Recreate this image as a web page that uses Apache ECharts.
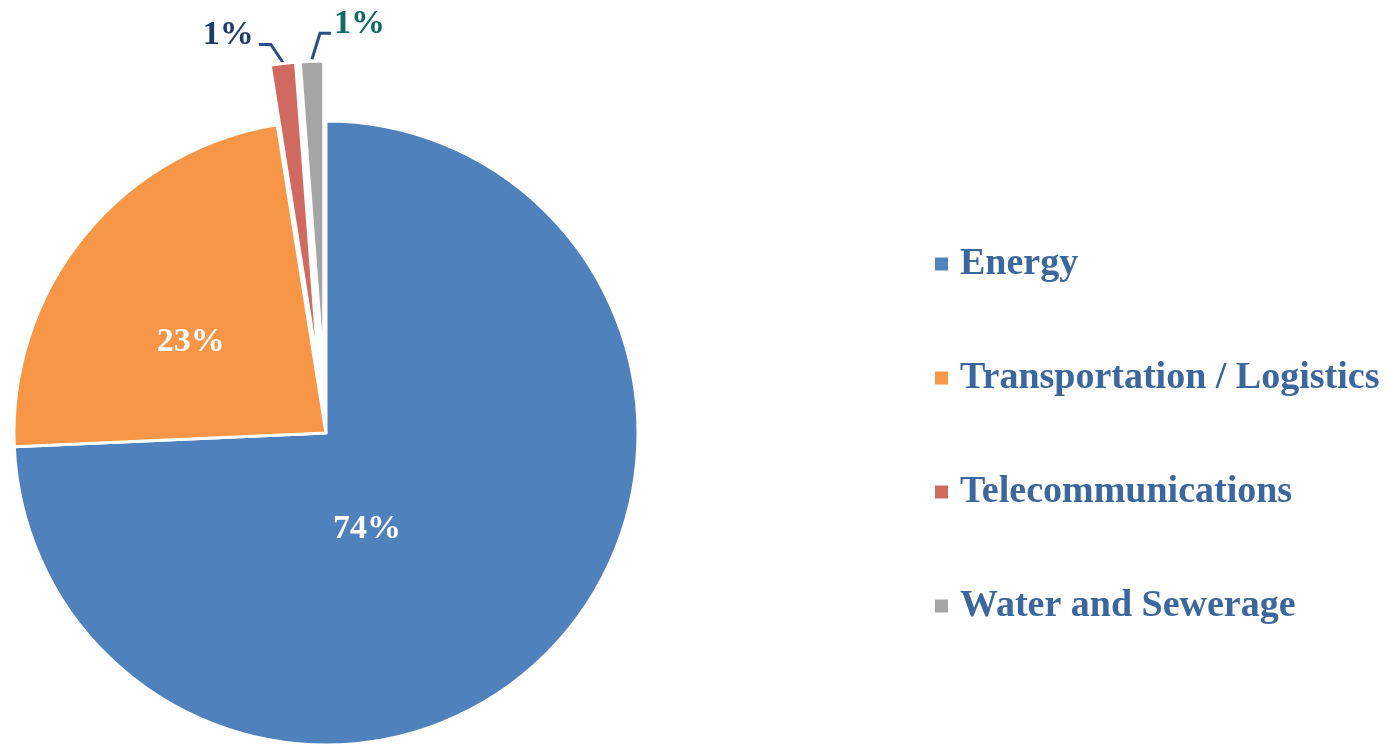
<!DOCTYPE html>
<html>
<head>
<meta charset="utf-8">
<script src="https://cdn.jsdelivr.net/npm/echarts@6/dist/echarts.min.js"></script>
<style>
  html, body { margin: 0; padding: 0; background: #fff; }
  #chart { width: 1389px; height: 744px; }
</style>
</head>
<body>
<div id="chart"></div>
<script>
const categories = ['Energy', 'Transportation / Logistics', 'Telecommunications', 'Water and Sewerage']
const shares = [74.3, 23.2, 1.3, 1.2]
const colors = ['#4F81BD', '#F79646', '#D0695F', '#A5A5A5']
const exploded = [false, false, true, true]

const serif = '"Liberation Serif", "Times New Roman", serif'

const chart = echarts.init(document.getElementById('chart'))

const itemLabel = [
  { position: 'inside', color: '#fff' },
  { position: 'inside', color: '#fff' },
  { position: 'outside', color: '#1F3D6B' },
  { position: 'outside', color: '#0F6B69' },
]

const option = {
  backgroundColor: '#fff',
  color: colors,
  legend: {
    orient: 'vertical',
    left: 928,
    top: 239,
    itemGap: 74,
    itemWidth: 15,
    itemHeight: 15,
    icon: 'rect',
    textStyle: {
      fontFamily: serif,
      fontWeight: 'bold',
      fontSize: 38,
      lineHeight: 40,
      color: '#3C669E',
      padding: [0, 0, 0, 6],
    },
    selectedMode: false,
  },
  series: [
    {
      type: 'pie',
      center: [326, 433],
      radius: 312,
      startAngle: 90,
      clockwise: true,
      avoidLabelOverlap: false,
      selectedMode: 'multiple',
      selectedOffset: 60,
      animation: false,
      itemStyle: {
        borderColor: '#fff',
        borderWidth: 3,
      },
      label: {
        fontFamily: serif,
        fontWeight: 'bold',
        fontSize: 34,
        formatter: (p) => Math.round(p.percent) + '%',
      },
      labelLine: {
        length: 24,
        length2: 12,
        lineStyle: { color: '#2A4F86', width: 3 },
      },
      emphasis: { disabled: true },
      labelLayout: (params) => {
        // nudge the inner labels to where the original had them
        if (params.dataIndex === 0) return { dx: -74, dy: -14 }
        if (params.dataIndex === 1) return { dx: -12, dy: 10 }
        const pts = params.labelLinePoints
        if (!pts) return {}
        const r = params.labelRect
        let p0, p1, p2, left, lift
        if (params.dataIndex === 3) {
          // leader runs up and to the right for the last slice
          p0 = [pts[0][0], pts[0][1] - 2]
          p1 = [p0[0] + 8, p0[1] - 26]
          p2 = [p1[0] + 11, p1[1]]
          left = p2[0] + 3
          lift = 9
        } else {
          p0 = [pts[0][0], pts[0][1] - 1]
          p1 = [p0[0] - 12, p0[1] - 18]
          p2 = [p1[0] - 12, p1[1]]
          left = p2[0] - 5 - r.width
          lift = 9
        }
        return {
          labelLinePoints: [p0, p1, p2],
          dx: left - r.x,
          dy: p1[1] - lift - (r.y + r.height / 2),
        }
      },
      data: categories.map((name, i) => ({
        name,
        value: shares[i],
        selected: exploded[i],
        label: itemLabel[i],
        labelLine: { show: i >= 2 },
      })),
    },
  ],
}

chart.setOption(option)

window.addEventListener('resize', () => {
  chart.resize()
})
</script>
</body>
</html>
